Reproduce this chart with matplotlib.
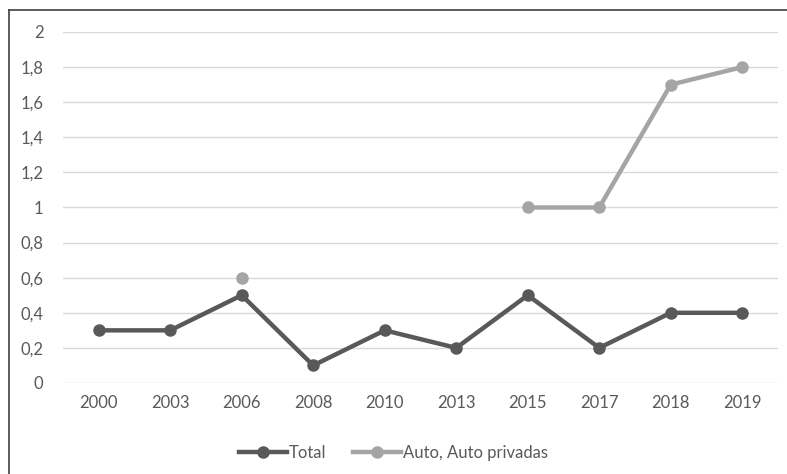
import matplotlib
matplotlib.use("Agg")
import matplotlib.pyplot as plt
import numpy as np
from matplotlib.lines import Line2D

years = ["2000", "2003", "2006", "2008", "2010", "2013", "2015", "2017", "2018", "2019"]
total = [0.3, 0.3, 0.5, 0.1, 0.3, 0.2, 0.5, 0.2, 0.4, 0.4]
auto = [np.nan, np.nan, 0.6, np.nan, np.nan, np.nan, 1.0, 1.0, 1.7, 1.8]
yticks = [0, 0.2, 0.4, 0.6, 0.8, 1, 1.2, 1.4, 1.6, 1.8, 2]
ytick_labels = ["0", "0,2", "0,4", "0,6", "0,8", "1", "1,2", "1,4", "1,6", "1,8", "2"]

plt.rcParams['font.family'] = ['Lato', 'DejaVu Sans']

fig = plt.figure(figsize=(7.87, 4.74), dpi=100)
ax = fig.add_axes([0.080, 0.192, 0.9086, 0.7405])

x = np.arange(len(years))
c_total = "#595959"
c_auto = "#A5A5A5"
ax.plot(x, total, color=c_total, lw=3.2, marker='o', ms=8, solid_capstyle='round', zorder=3)
ax.plot(x, auto, color=c_auto, lw=3.2, marker='o', ms=8, solid_capstyle='round', zorder=3)

ax.set_xlim(-0.5, len(years) - 0.5)
ax.set_ylim(0, 2)
ax.set_xticks(x)
ax.set_xticklabels(years)
ax.set_yticks(yticks)
ax.set_yticklabels(ytick_labels)
ax.grid(axis='y', color="#D9D9D9", lw=1)
ax.set_axisbelow(True)
for s in ax.spines.values():
    s.set_visible(False)
ax.tick_params(axis='both', length=0, labelsize=12, labelcolor="#595959")
ax.tick_params(axis='x', pad=9)
ax.tick_params(axis='y', pad=14)

handles = [Line2D([0], [0], color=c_total, lw=3.2, marker='o', ms=8),
           Line2D([0], [0], color=c_auto, lw=3.2, marker='o', ms=8)]
leg = fig.legend(handles, ["Total", "Auto, Auto privadas"], loc='center', bbox_to_anchor=(0.5, 0.045),
                 ncol=2, frameon=False, fontsize=12, handlelength=2.9, handletextpad=0.1,
                 columnspacing=1.6)
for t in leg.get_texts():
    t.set_color("#595959")

# partial outer frame (left and top)
fig.add_artist(Line2D([9/787, 9/787], [0, 1 - 10/474], transform=fig.transFigure, color="#404040", lw=1.2))
fig.add_artist(Line2D([9/787, 1], [1 - 10/474, 1 - 10/474], transform=fig.transFigure, color="#404040", lw=1.2))

fig.savefig("out.png", dpi=100)
